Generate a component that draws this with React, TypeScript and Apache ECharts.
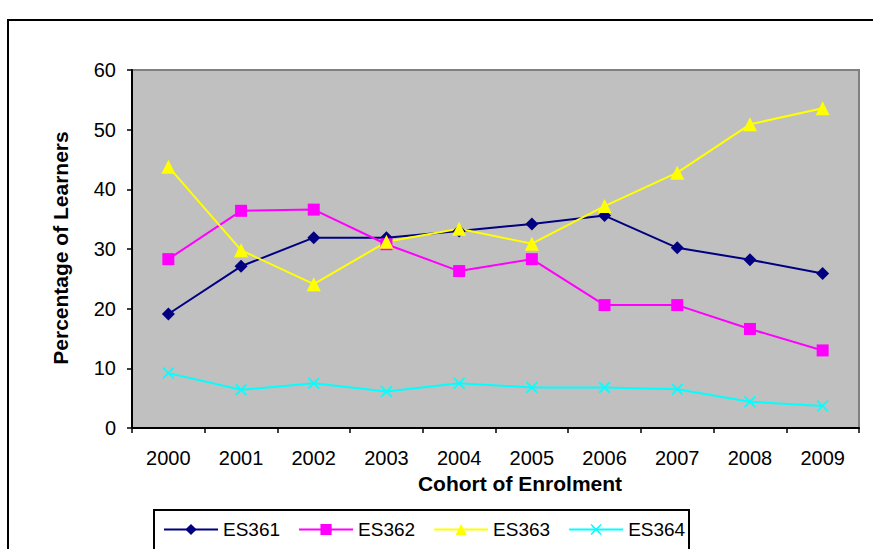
import React, { useEffect, useRef } from "react";
import * as echarts from "echarts";

const categories = ["2000", "2001", "2002", "2003", "2004", "2005", "2006", "2007", "2008", "2009"];
const es361 = [19.1, 27.1, 31.9, 31.9, 33.0, 34.2, 35.6, 30.2, 28.2, 25.9];
const es362 = [28.3, 36.4, 36.6, 30.8, 26.3, 28.3, 20.6, 20.6, 16.6, 13.0];
const es363 = [43.8, 29.8, 24.1, 31.2, 33.4, 30.9, 37.2, 42.8, 50.9, 53.6];
const es364 = [9.2, 6.4, 7.5, 6.1, 7.5, 6.8, 6.8, 6.5, 4.4, 3.7];
const yTicks = { min: 0, max: 60, interval: 10 };

const X_SYMBOL = "path://M0,1L1,0L5,4L9,0L10,1L6,5L10,9L9,10L5,6L1,10L0,9L4,5Z";

export default function App() {
  const ref = useRef<HTMLDivElement>(null);
  useEffect(() => {
    document.body.style.margin = "0";
    const chart = echarts.init(ref.current!, null, { renderer: "svg" });
    const font = "Liberation Sans, Arial, sans-serif";
    const mk = (name: string, data: number[], color: string, symbol: string, size: number) => ({
      name,
      type: "line",
      data,
      symbol,
      symbolSize: size,
      showAllSymbol: true,
      lineStyle: { color, width: 2 },
      itemStyle: { color, borderWidth: 0 },
      emphasis: { disabled: true },
    });
    chart.setOption({
      animation: false,
      backgroundColor: "#ffffff",
      textStyle: { fontFamily: font },
      grid: {
        left: 132,
        top: 70,
        width: 727,
        height: 358,
        show: true,
        backgroundColor: "#C0C0C0",
        borderColor: "#808080",
        borderWidth: 2,
      },
      graphic: [
        {
          type: "rect",
          z: -10,
          shape: { x: 8, y: 20, width: 900, height: 600 },
          style: { fill: "none", stroke: "#000", lineWidth: 2 },
        },
        {
          type: "rect",
          z: 5,
          shape: { x: 154, y: 510, width: 535, height: 60 },
          style: { fill: "#fff", stroke: "#000", lineWidth: 2 },
        },
        {
          type: "text",
          z: 10,
          x: 520,
          y: 483,
          style: {
            text: "Cohort of Enrolment",
            font: "bold 21px " + font,
            fill: "#000",
            align: "center",
            verticalAlign: "middle",
          },
        },
        {
          type: "text",
          z: 10,
          x: 60,
          y: 248,
          rotation: Math.PI / 2,
          style: {
            text: "Percentage of Learners",
            font: "bold 21px " + font,
            fill: "#000",
            align: "center",
            verticalAlign: "middle",
          },
        },
      ],
      legend: {
        left: 163,
        top: 520,
        z: 20,
        itemWidth: 54,
        itemHeight: 14,
        itemGap: 18,
        padding: 0,
        textStyle: { fontSize: 19, color: "#000", fontFamily: font },
        data: ["ES361", "ES362", "ES363", "ES364"],
      },
      xAxis: {
        type: "category",
        data: categories,
        boundaryGap: true,
        axisLine: { lineStyle: { color: "#000", width: 2 } },
        axisTick: { show: true, length: 5, inside: false, alignWithLabel: false, lineStyle: { color: "#000", width: 1.5 } },
        axisLabel: { color: "#000", fontSize: 20, margin: 20, fontFamily: font },
        splitLine: { show: false },
      },
      yAxis: {
        type: "value",
        min: yTicks.min,
        max: yTicks.max,
        interval: yTicks.interval,
        axisLine: { show: true, lineStyle: { color: "#000", width: 2 } },
        axisTick: { show: true, length: 5, inside: false, lineStyle: { color: "#000", width: 1.5 } },
        axisLabel: { color: "#000", fontSize: 20, margin: 16, fontFamily: font },
        splitLine: { show: false },
      },
      series: [
        mk("ES361", es361, "#000080", "diamond", 13),
        mk("ES362", es362, "#FF00FF", "rect", 12),
        mk("ES363", es363, "#FFFF00", "triangle", 14),
        mk("ES364", es364, "#00FFFF", X_SYMBOL, 12),
      ],
    });
    return () => chart.dispose();
  }, []);
  return <div ref={ref} style={{ width: 873, height: 549 }} />;
}
